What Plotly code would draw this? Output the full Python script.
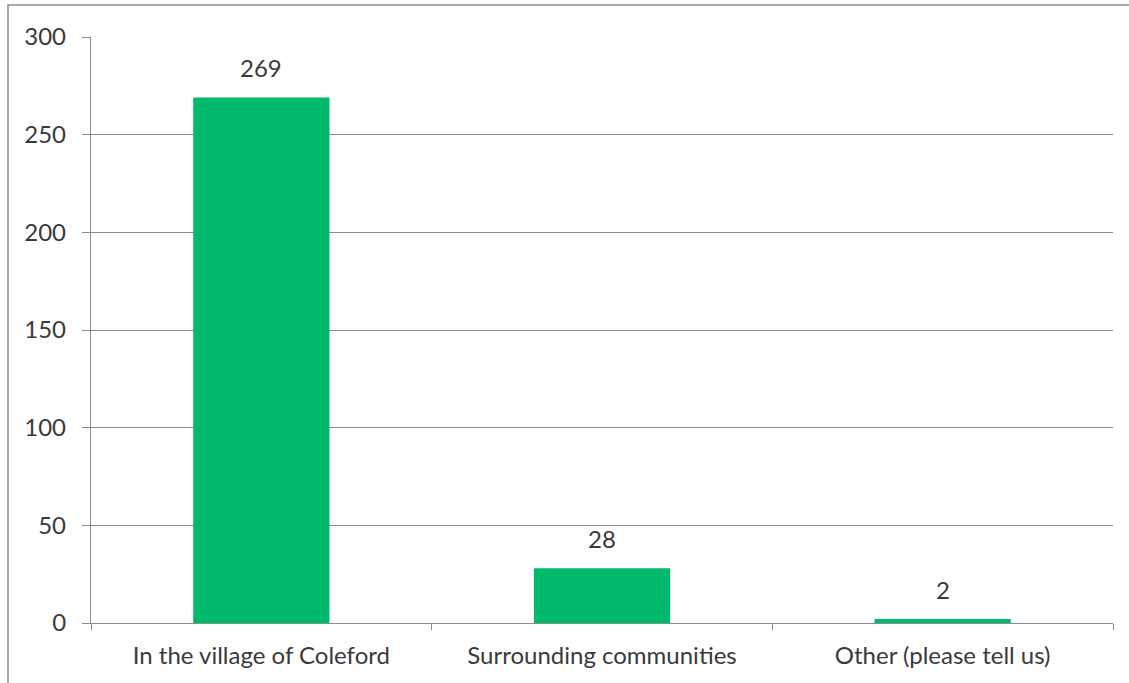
import plotly.graph_objects as go

categories = ["In the village of Coleford", "Surrounding communities", "Other (please tell us)"]
values = [269, 28, 2]
y_ticks = [0, 50, 100, 150, 200, 250, 300]

BAR_COLOR = "#00BA6C"
GRID = "#8C8C8C"
TEXT = "#3A3A3A"
FONT = "Lato"
FS = 24

fig = go.Figure()
fig.add_trace(go.Bar(
    x=categories, y=values,
    marker=dict(color=BAR_COLOR, line=dict(width=0)),
    width=0.4,
    hoverinfo="x+y",
))

for c, v in zip(categories, values):
    fig.add_annotation(x=c, y=v, text=str(v), showarrow=False,
                       yanchor="middle", yshift=30,
                       font=dict(family=FONT, size=FS, color=TEXT))

W, H = 1129, 683
L, T = 91, 37
pw, ph = 1022, 586
R = W - L - pw
B = H - T - ph

# outer chart border (partially cropped in the reference)
fig.add_shape(type="rect", xref="paper", yref="paper",
              x0=(8 - L) / pw, x1=1.2, y0=-0.3, y1=(ph + T - 5) / ph,
              line=dict(color="#8A8A8A", width=1.5), layer="below")

fig.update_layout(
    width=W, height=H,
    margin=dict(l=L, r=R, t=T, b=B, autoexpand=False),
    paper_bgcolor="white", plot_bgcolor="white",
    showlegend=False,
    font=dict(family=FONT, size=FS, color=TEXT),
    xaxis=dict(
        type="category",
        showline=True, linecolor=GRID, linewidth=1.3,
        ticks="outside", tickson="boundaries", ticklen=6, tickcolor=GRID, tickwidth=1.3,
        showgrid=False,
        tickfont=dict(family=FONT, size=FS, color=TEXT),
        ticklabelstandoff=11,
    ),
    yaxis=dict(
        range=[0, 300], tickvals=y_ticks,
        showline=True, linecolor=GRID, linewidth=1.3,
        ticks="outside", ticklen=8, tickcolor=GRID, tickwidth=1.3,
        showgrid=True, gridcolor=GRID, gridwidth=1.3,
        zeroline=False,
        tickfont=dict(family=FONT, size=FS, color=TEXT),
        ticklabelstandoff=11,
    ),
)

fig.write_html(
    "out.html",
    config={"displayModeBar": False},
    post_script="document.body.style.margin='0';document.body.style.overflow='hidden';",
)
